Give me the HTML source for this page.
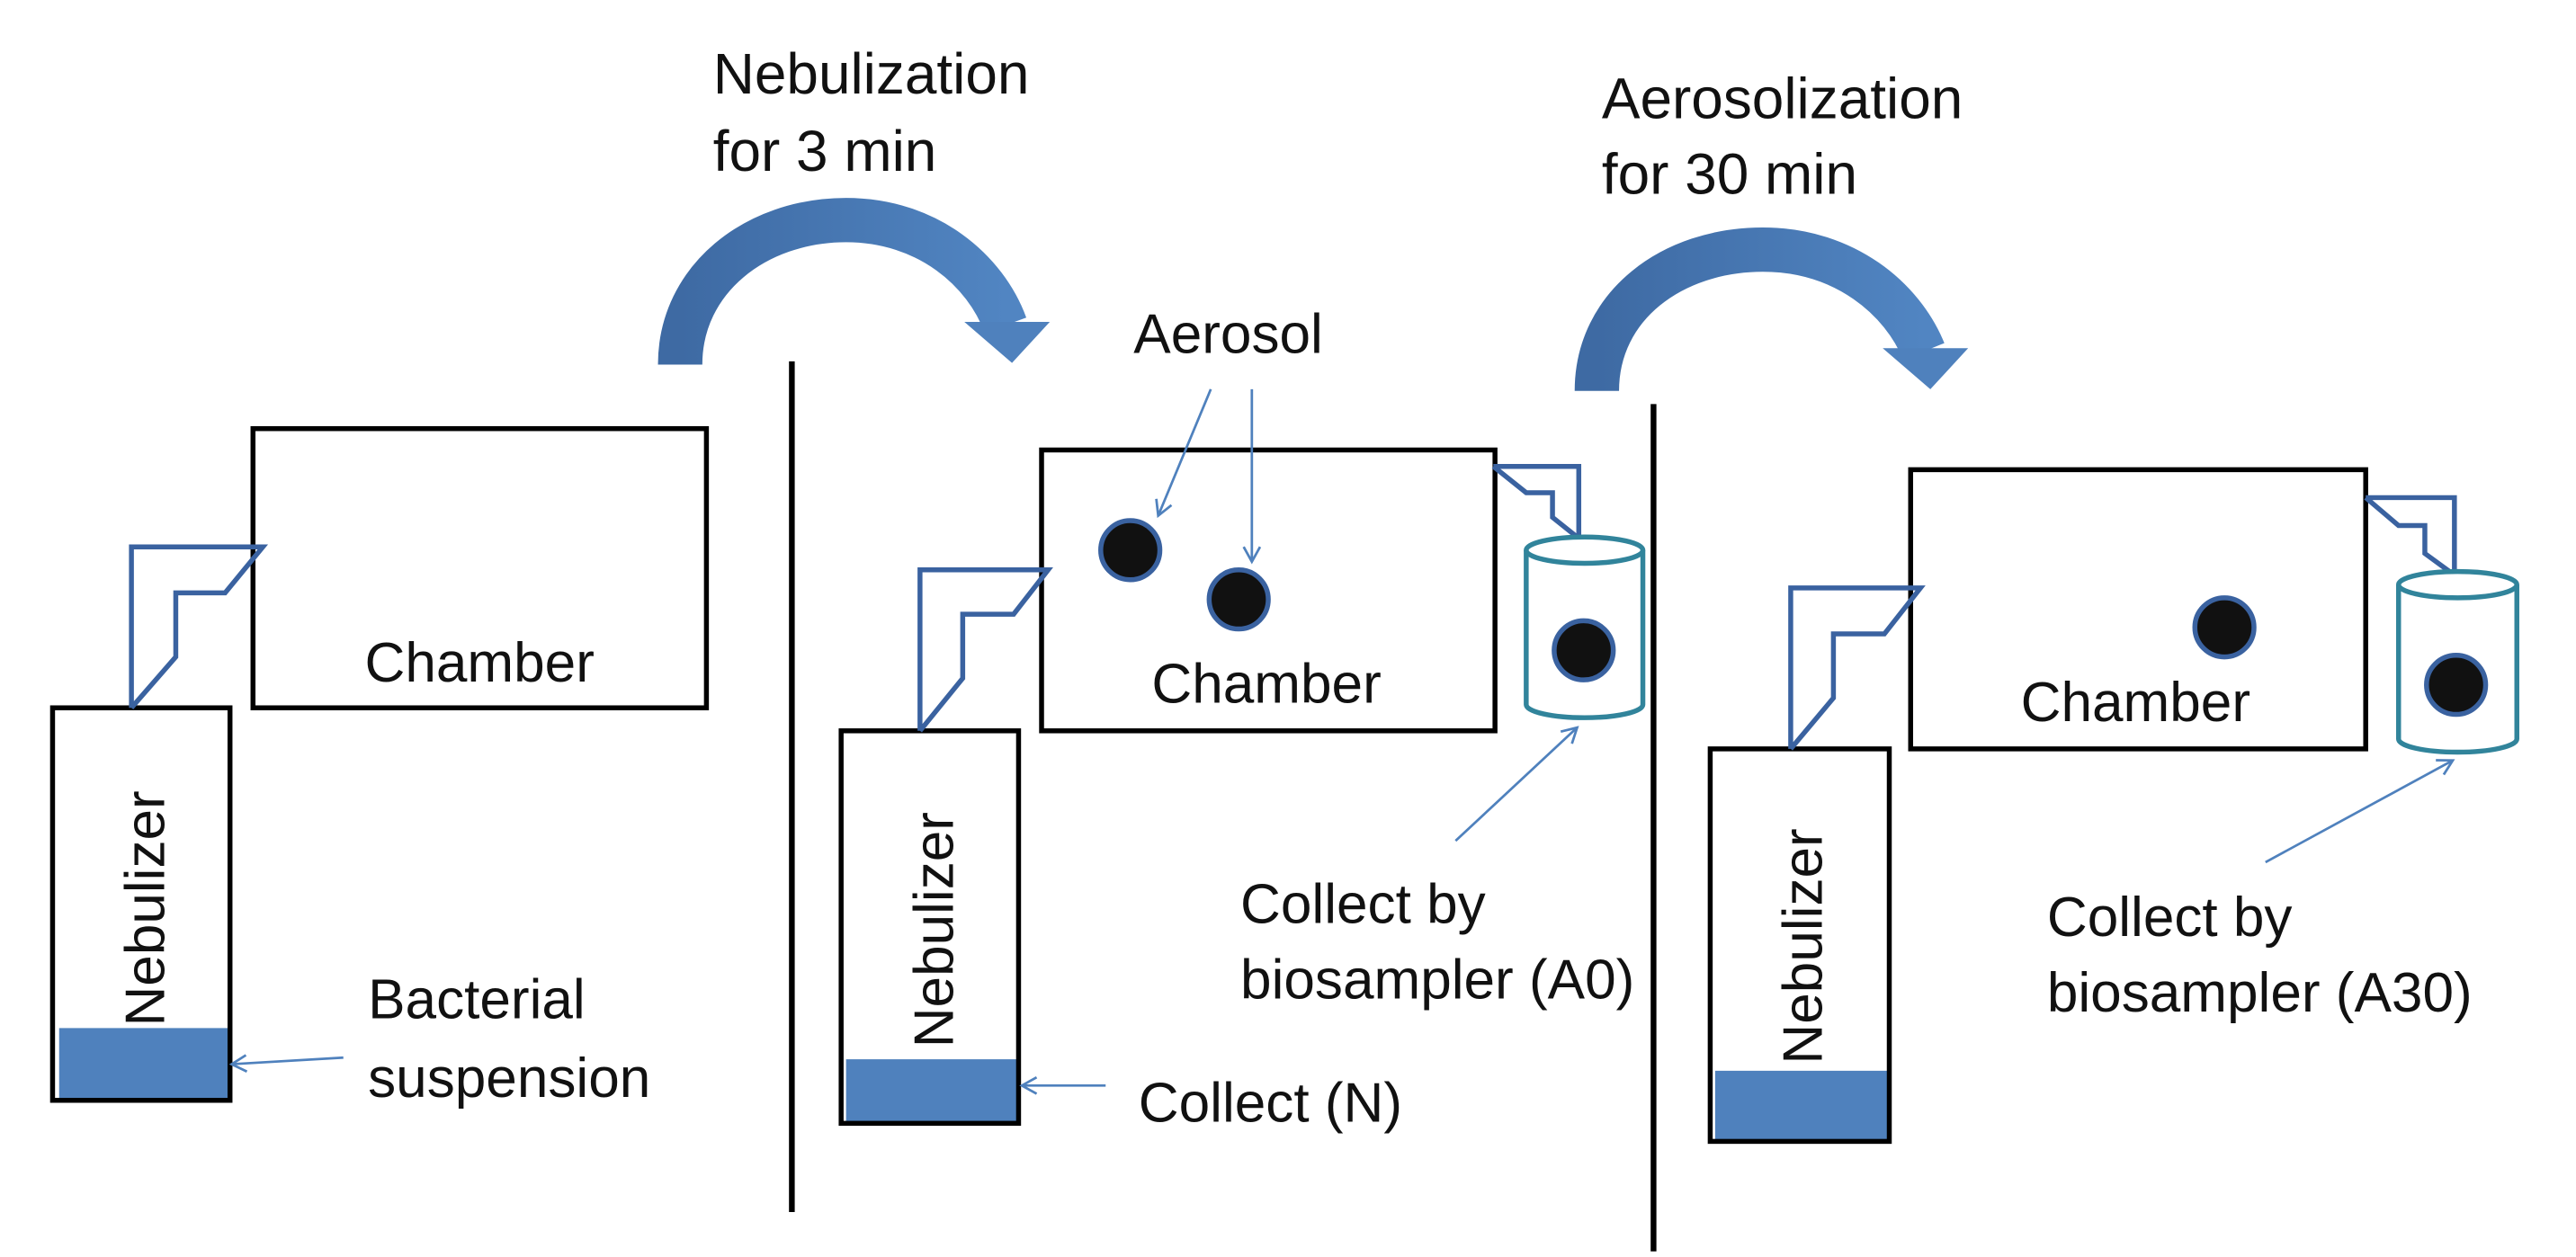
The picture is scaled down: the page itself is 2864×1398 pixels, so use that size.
<!DOCTYPE html>
<html><head><meta charset="utf-8"><style>
html,body{margin:0;padding:0;background:#fff;}
svg{display:block;}
text{font-family:"Liberation Sans",sans-serif;fill:#111;}
</style></head><body>
<svg width="2864" height="1398" viewBox="0 0 1568 765.4" preserveAspectRatio="none" xmlns="http://www.w3.org/2000/svg">
<defs>
<linearGradient id="g" x1="0" y1="0" x2="1" y2="0">
<stop offset="0" stop-color="#3e6aa3"/><stop offset="1" stop-color="#5185c2"/>
</linearGradient>
<marker id="ah" markerWidth="12" markerHeight="12" refX="10" refY="6" orient="auto" markerUnits="userSpaceOnUse">
<path d="M1,1 L10,6 L1,11" fill="none" stroke="#4f81bd" stroke-width="1.5"/>
</marker>
</defs>

<!-- curved arrows -->
<path d="M414,222 C414,170 460,134 515,134 C565,134 600,165 612,198" fill="none" stroke="url(#g)" stroke-width="27"/>
<polygon points="587,196 639,196 616,221" fill="#4f81bd"/>
<path d="M972,238 C972,186 1018,152 1073,152 C1123,152 1158,182 1171,214" fill="none" stroke="url(#g)" stroke-width="27"/>
<polygon points="1146,212 1198,212 1175,237" fill="#4f81bd"/>

<!-- header texts -->
<text x="434" y="57" font-size="35">Nebulization</text>
<text x="434" y="104" font-size="35">for 3 min</text>
<text x="975" y="72" font-size="35">Aerosolization</text>
<text x="975" y="118" font-size="35">for 30 min</text>

<!-- dividers -->
<line x1="482" y1="220" x2="482" y2="738" stroke="#000" stroke-width="3.5"/>
<line x1="1006.5" y1="246" x2="1006.5" y2="762" stroke="#000" stroke-width="3.5"/>

<!-- Panel 1 -->
<rect x="154" y="261" width="276" height="170" fill="none" stroke="#000" stroke-width="3"/>
<text x="222" y="415" font-size="34">Chamber</text>
<rect x="36" y="626" width="104" height="44" fill="#4f81bd"/>
<rect x="32" y="431" width="108" height="239" fill="none" stroke="#000" stroke-width="3"/>
<text transform="translate(100,625) rotate(-90)" font-size="34">Nebulizer</text>
<path d="M80,431 L80,333 L160,333 L137,361 L107,361 L107,400 L80,431" fill="none" stroke="#3a62a0" stroke-width="3"/>
<text x="224" y="620" font-size="34">Bacterial</text>
<text x="224" y="668" font-size="34">suspension</text>
<line x1="209" y1="644" x2="141" y2="648" stroke="#4f81bd" stroke-width="1.5" marker-end="url(#ah)"/>

<!-- Panel 2 -->
<rect x="634" y="274" width="276" height="171" fill="none" stroke="#000" stroke-width="3"/>
<text x="701" y="428" font-size="34">Chamber</text>
<circle cx="688" cy="335" r="18" fill="#111" stroke="#3a62a0" stroke-width="3"/>
<circle cx="754" cy="365" r="18" fill="#111" stroke="#3a62a0" stroke-width="3"/>
<text x="690" y="215" font-size="34">Aerosol</text>
<line x1="737" y1="237" x2="705" y2="314" stroke="#4f81bd" stroke-width="1.5" marker-end="url(#ah)"/>
<line x1="762" y1="237" x2="762" y2="342" stroke="#4f81bd" stroke-width="1.5" marker-end="url(#ah)"/>
<rect x="515" y="645" width="105" height="39" fill="#4f81bd"/>
<rect x="512" y="445" width="108" height="239" fill="none" stroke="#000" stroke-width="3"/>
<text transform="translate(580,638) rotate(-90)" font-size="34">Nebulizer</text>
<path d="M560,445 L560,347 L638,347 L617,374 L586,374 L586,413 L560,445" fill="none" stroke="#3a62a0" stroke-width="3"/>
<text x="693" y="683" font-size="34">Collect (N)</text>
<line x1="673" y1="661" x2="622" y2="661" stroke="#4f81bd" stroke-width="1.5" marker-end="url(#ah)"/>
<!-- cylinder A0 -->
<path d="M909,284 L961,284 L961,327 M909,284 L929,300 L945,300 L945,315 L960,327" fill="none" stroke="#3a62a0" stroke-width="3"/>
<path d="M929,335 L929,429 A35.5,8 0 0 0 1000,429 L1000,335" fill="#fff" stroke="#31849b" stroke-width="3"/>
<ellipse cx="964.5" cy="335" rx="35.5" ry="8" fill="#fff" stroke="#31849b" stroke-width="3"/>
<circle cx="964" cy="396" r="18" fill="#111" stroke="#3a62a0" stroke-width="3"/>
<line x1="886" y1="512" x2="960" y2="443" stroke="#4f81bd" stroke-width="1.5" marker-end="url(#ah)"/>
<text x="755" y="562" font-size="34">Collect by</text>
<text x="755" y="608" font-size="34">biosampler (A0)</text>

<!-- Panel 3 -->
<rect x="1163" y="286" width="277" height="170" fill="none" stroke="#000" stroke-width="3"/>
<text x="1230" y="439" font-size="34">Chamber</text>
<circle cx="1354" cy="382" r="18" fill="#111" stroke="#3a62a0" stroke-width="3"/>
<rect x="1044" y="652" width="106" height="43" fill="#4f81bd"/>
<rect x="1041" y="456" width="109" height="239" fill="none" stroke="#000" stroke-width="3"/>
<text transform="translate(1109,648) rotate(-90)" font-size="34">Nebulizer</text>
<path d="M1090,456 L1090,358 L1169,358 L1147,386 L1116,386 L1116,425 L1090,456" fill="none" stroke="#3a62a0" stroke-width="3"/>
<path d="M1440,303 L1494,303 L1494,348 M1440,303 L1460,320 L1476,320 L1476,337 L1491,348" fill="none" stroke="#3a62a0" stroke-width="3"/>
<path d="M1460,356 L1460,450 A36,8 0 0 0 1532,450 L1532,356" fill="#fff" stroke="#31849b" stroke-width="3"/>
<ellipse cx="1496" cy="356" rx="36" ry="8" fill="#fff" stroke="#31849b" stroke-width="3"/>
<circle cx="1495" cy="417" r="18" fill="#111" stroke="#3a62a0" stroke-width="3"/>
<line x1="1379" y1="525" x2="1493" y2="463" stroke="#4f81bd" stroke-width="1.5" marker-end="url(#ah)"/>
<text x="1246" y="570" font-size="34">Collect by</text>
<text x="1246" y="616" font-size="34">biosampler (A30)</text>
</svg>
</body></html>
